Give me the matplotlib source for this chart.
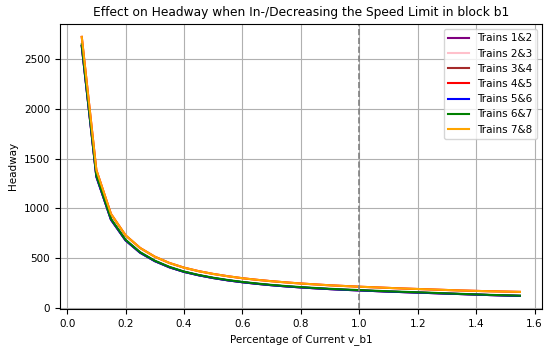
import matplotlib
matplotlib.use("Agg")
import matplotlib.pyplot as plt

# fraction of the current speed limit in block b1
speed_factor = [0.05, 0.10, 0.15, 0.20, 0.25, 0.30, 0.35, 0.40, 0.45, 0.50,
                0.55, 0.60, 0.65, 0.70, 0.75, 0.80, 0.85, 0.90, 0.95, 1.00,
                1.05, 1.10, 1.15, 1.20, 1.25, 1.30, 1.35, 1.40, 1.45, 1.50, 1.55]

# headway (lower bundle)
headway_low = [2630, 1320, 888, 680, 556, 472, 410, 364, 330, 302,
               279, 260, 244, 230, 218, 208, 199, 191, 184, 178,
               172, 166, 161, 156, 151, 146, 141, 136, 131, 127, 123]
headway_green = [2645, 1332, 896, 686, 561, 476, 414, 367, 333, 305,
                 282, 263, 247, 233, 221, 211, 202, 194, 187, 181,
                 175, 169, 164, 159, 154, 148, 143, 138, 133, 129, 125]
# upper bundle
headway_high = [2720, 1385, 945, 730, 603, 516, 453, 406, 371, 343,
                320, 300, 284, 270, 258, 247, 238, 229, 222, 215,
                209, 203, 197, 192, 187, 182, 177, 173, 169, 166, 163]

series = [
    ("Trains 1&2", headway_low, "purple"),
    ("Trains 2&3", headway_high, "pink"),
    ("Trains 3&4", headway_low, "brown"),
    ("Trains 4&5", headway_high, "red"),
    ("Trains 5&6", headway_low, "blue"),
    ("Trains 6&7", headway_green, "green"),
    ("Trains 7&8", headway_high, "orange"),
]

fig = plt.figure(figsize=(5.44, 3.47), dpi=100)
ax = fig.add_axes([0.110, 0.110, 0.886, 0.821])

for label, values, color in series:
    ax.plot(speed_factor, values, label=label, color=color, linewidth=1.5)

ax.axvline(x=1.0, color="gray", linestyle="--", linewidth=1.2)

ax.set_title("Effect on Headway when In-/Decreasing the Speed Limit in block b1", fontsize=8.8)
ax.set_xlabel("Percentage of Current v_b1", fontsize=7.5)
ax.set_ylabel("Headway", fontsize=7.5)
ax.tick_params(labelsize=7.5)
ax.grid(True, color="#b0b0b0", linewidth=0.8)
ax.legend(loc="upper right", fontsize=7.5)

fig.savefig("out.png", dpi=100)
